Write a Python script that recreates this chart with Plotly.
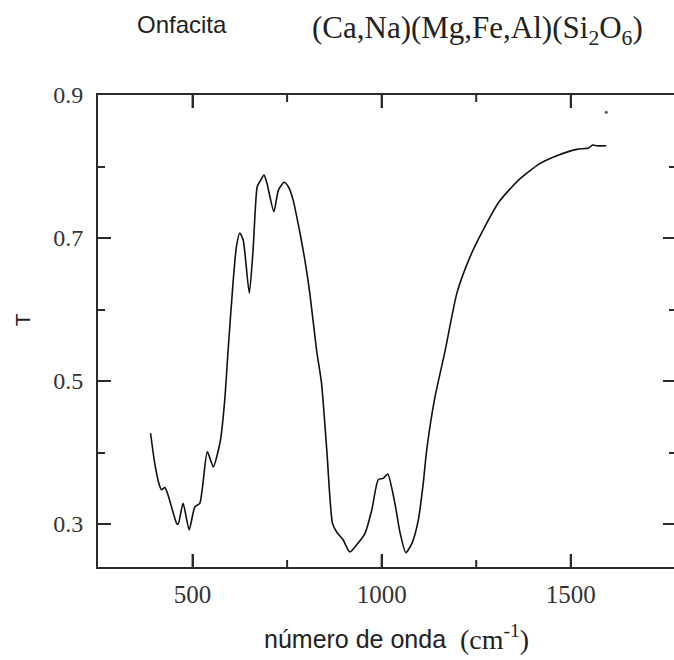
import plotly.graph_objects as go

# Data
wavenumber = [389, 400, 412, 418, 427, 435, 458, 462, 475, 491, 506, 519, 539, 555,
              568, 574, 585, 594, 607, 616, 625, 634, 650, 660, 671, 678, 689, 697,
              715, 727, 742, 753, 766, 784, 797, 810, 828, 841, 855, 870, 881, 898,
              916, 934, 956, 974, 991, 1004, 1016, 1035, 1049, 1064, 1080, 1097,
              1110, 1119, 1140, 1168, 1199, 1234, 1273, 1311, 1360, 1415, 1463,
              1516, 1547, 1558, 1569, 1594]
transmittance = [0.427, 0.385, 0.355, 0.348, 0.351, 0.341, 0.301, 0.300, 0.329, 0.292,
                 0.324, 0.329, 0.401, 0.380, 0.403, 0.418, 0.473, 0.543, 0.637, 0.688,
                 0.707, 0.697, 0.623, 0.683, 0.772, 0.779, 0.788, 0.776, 0.737, 0.767,
                 0.778, 0.772, 0.753, 0.707, 0.669, 0.623, 0.543, 0.497, 0.403, 0.301,
                 0.289, 0.278, 0.261, 0.271, 0.287, 0.320, 0.362, 0.364, 0.370, 0.329,
                 0.287, 0.260, 0.273, 0.306, 0.357, 0.403, 0.475, 0.543, 0.623, 0.674,
                 0.716, 0.751, 0.780, 0.803, 0.815, 0.824, 0.826, 0.830, 0.829, 0.829]
stray_x = [1594]
stray_y = [0.876]

x_major = [500, 1000, 1500]
x_major_labels = ["500", "1000", "1500"]
x_minor = [750, 1250]
y_major = [0.3, 0.5, 0.7, 0.9]
y_major_labels = ["0.3", "0.5", "0.7", "0.9"]
y_minor = [0.4, 0.6, 0.8]

x_range = [250, 1773]
y_range = [0.24, 0.9]

AX = "#2a2a2a"
serif = "Liberation Serif"
sans = "Liberation Sans"
PLOT_H = 472  # plot-area height in px, for tick lengths
span = y_range[1] - y_range[0]

fig = go.Figure()
fig.add_trace(go.Scatter(x=wavenumber, y=transmittance, mode="lines",
                         line=dict(color="#111111", width=1.6, shape="spline", smoothing=0.6),
                         showlegend=False, hoverinfo="skip"))
fig.add_trace(go.Scatter(x=stray_x, y=stray_y, mode="markers",
                         marker=dict(color="#555555", size=3), showlegend=False))
# invisible trace to activate the right-hand tick axis
fig.add_trace(go.Scatter(x=[x_range[0]], y=[y_range[0]], yaxis="y2", mode="markers",
                         marker=dict(opacity=0), showlegend=False, hoverinfo="skip"))

# x-axis tick marks (bottom and top, pointing inward), drawn as a line trace
tx, ty = [], []
for vals, ln in ((x_major, 13), (x_minor, 7)):
    d = ln / PLOT_H * span
    for v in vals:
        tx += [v, v, None, v, v, None]
        ty += [y_range[0], y_range[0] + d, None, y_range[1], y_range[1] - d, None]
fig.add_trace(go.Scatter(x=tx, y=ty, mode="lines", line=dict(color=AX, width=2),
                         showlegend=False, hoverinfo="skip", cliponaxis=False))

fig.update_layout(
    width=674, height=660,
    margin=dict(l=98, r=0, t=95, b=93),
    paper_bgcolor="white", plot_bgcolor="white",
    xaxis=dict(range=x_range, tickvals=x_major, ticktext=x_major_labels,
               ticks="inside", ticklen=13, tickwidth=2, tickcolor=AX,
               showgrid=False, zeroline=False, showline=True, mirror="ticks",
               linecolor=AX, linewidth=2,
               tickfont=dict(family=serif, size=25, color="#333333"),
               ticklabelstandoff=4),
    yaxis=dict(range=y_range, tickvals=y_major, ticktext=y_major_labels,
               showgrid=False, zeroline=False, showline=True, linecolor=AX, linewidth=2,
               ticks="inside", ticklen=13, tickwidth=2, tickcolor=AX,
               minor=dict(tickvals=y_minor, ticks="inside", ticklen=7, tickwidth=2,
                          tickcolor=AX, showgrid=False),
               tickfont=dict(family=serif, size=24, color="#333333"),
               ticklabelstandoff=8),
    yaxis2=dict(range=y_range, overlaying="y", side="right", tickvals=y_major,
                showticklabels=False, showgrid=False, zeroline=False, showline=False,
                ticks="inside", ticklen=11, tickwidth=2, tickcolor=AX,
                minor=dict(tickvals=y_minor, ticks="inside", ticklen=5, tickwidth=2,
                           tickcolor=AX, showgrid=False)),
    annotations=[
        dict(text="Onfacita", xref="paper", yref="paper", x=0.1458, y=1.150,
             xanchor="center", yanchor="middle", showarrow=False,
             font=dict(family=sans, size=24, color="#222222")),
        dict(text="(Ca,Na)(Mg,Fe,Al)(Si<sub>2</sub>O<sub>6</sub>)", xref="paper", yref="paper",
             x=0.659, y=1.138, xanchor="center", yanchor="middle", showarrow=False,
             font=dict(family=serif, size=31, color="#222222")),
        dict(text="número de onda", xref="paper", yref="paper", x=(262 - 98) / 576,
             y=-0.152, xanchor="left", yanchor="middle", showarrow=False,
             font=dict(family=sans, size=25, color="#222222")),
        dict(text="(cm<sup>-1</sup>)", xref="paper", yref="paper", x=(458 - 98) / 576,
             y=-0.150, xanchor="left", yanchor="middle", showarrow=False,
             font=dict(family=serif, size=28, color="#222222")),
        dict(text="T", xref="paper", yref="paper", x=(22 - 98) / 576, y=0.523,
             xanchor="center", yanchor="middle", showarrow=False, textangle=-90,
             font=dict(family=sans, size=21, color="#222222")),
    ],
)

fig.write_html("out.html")
